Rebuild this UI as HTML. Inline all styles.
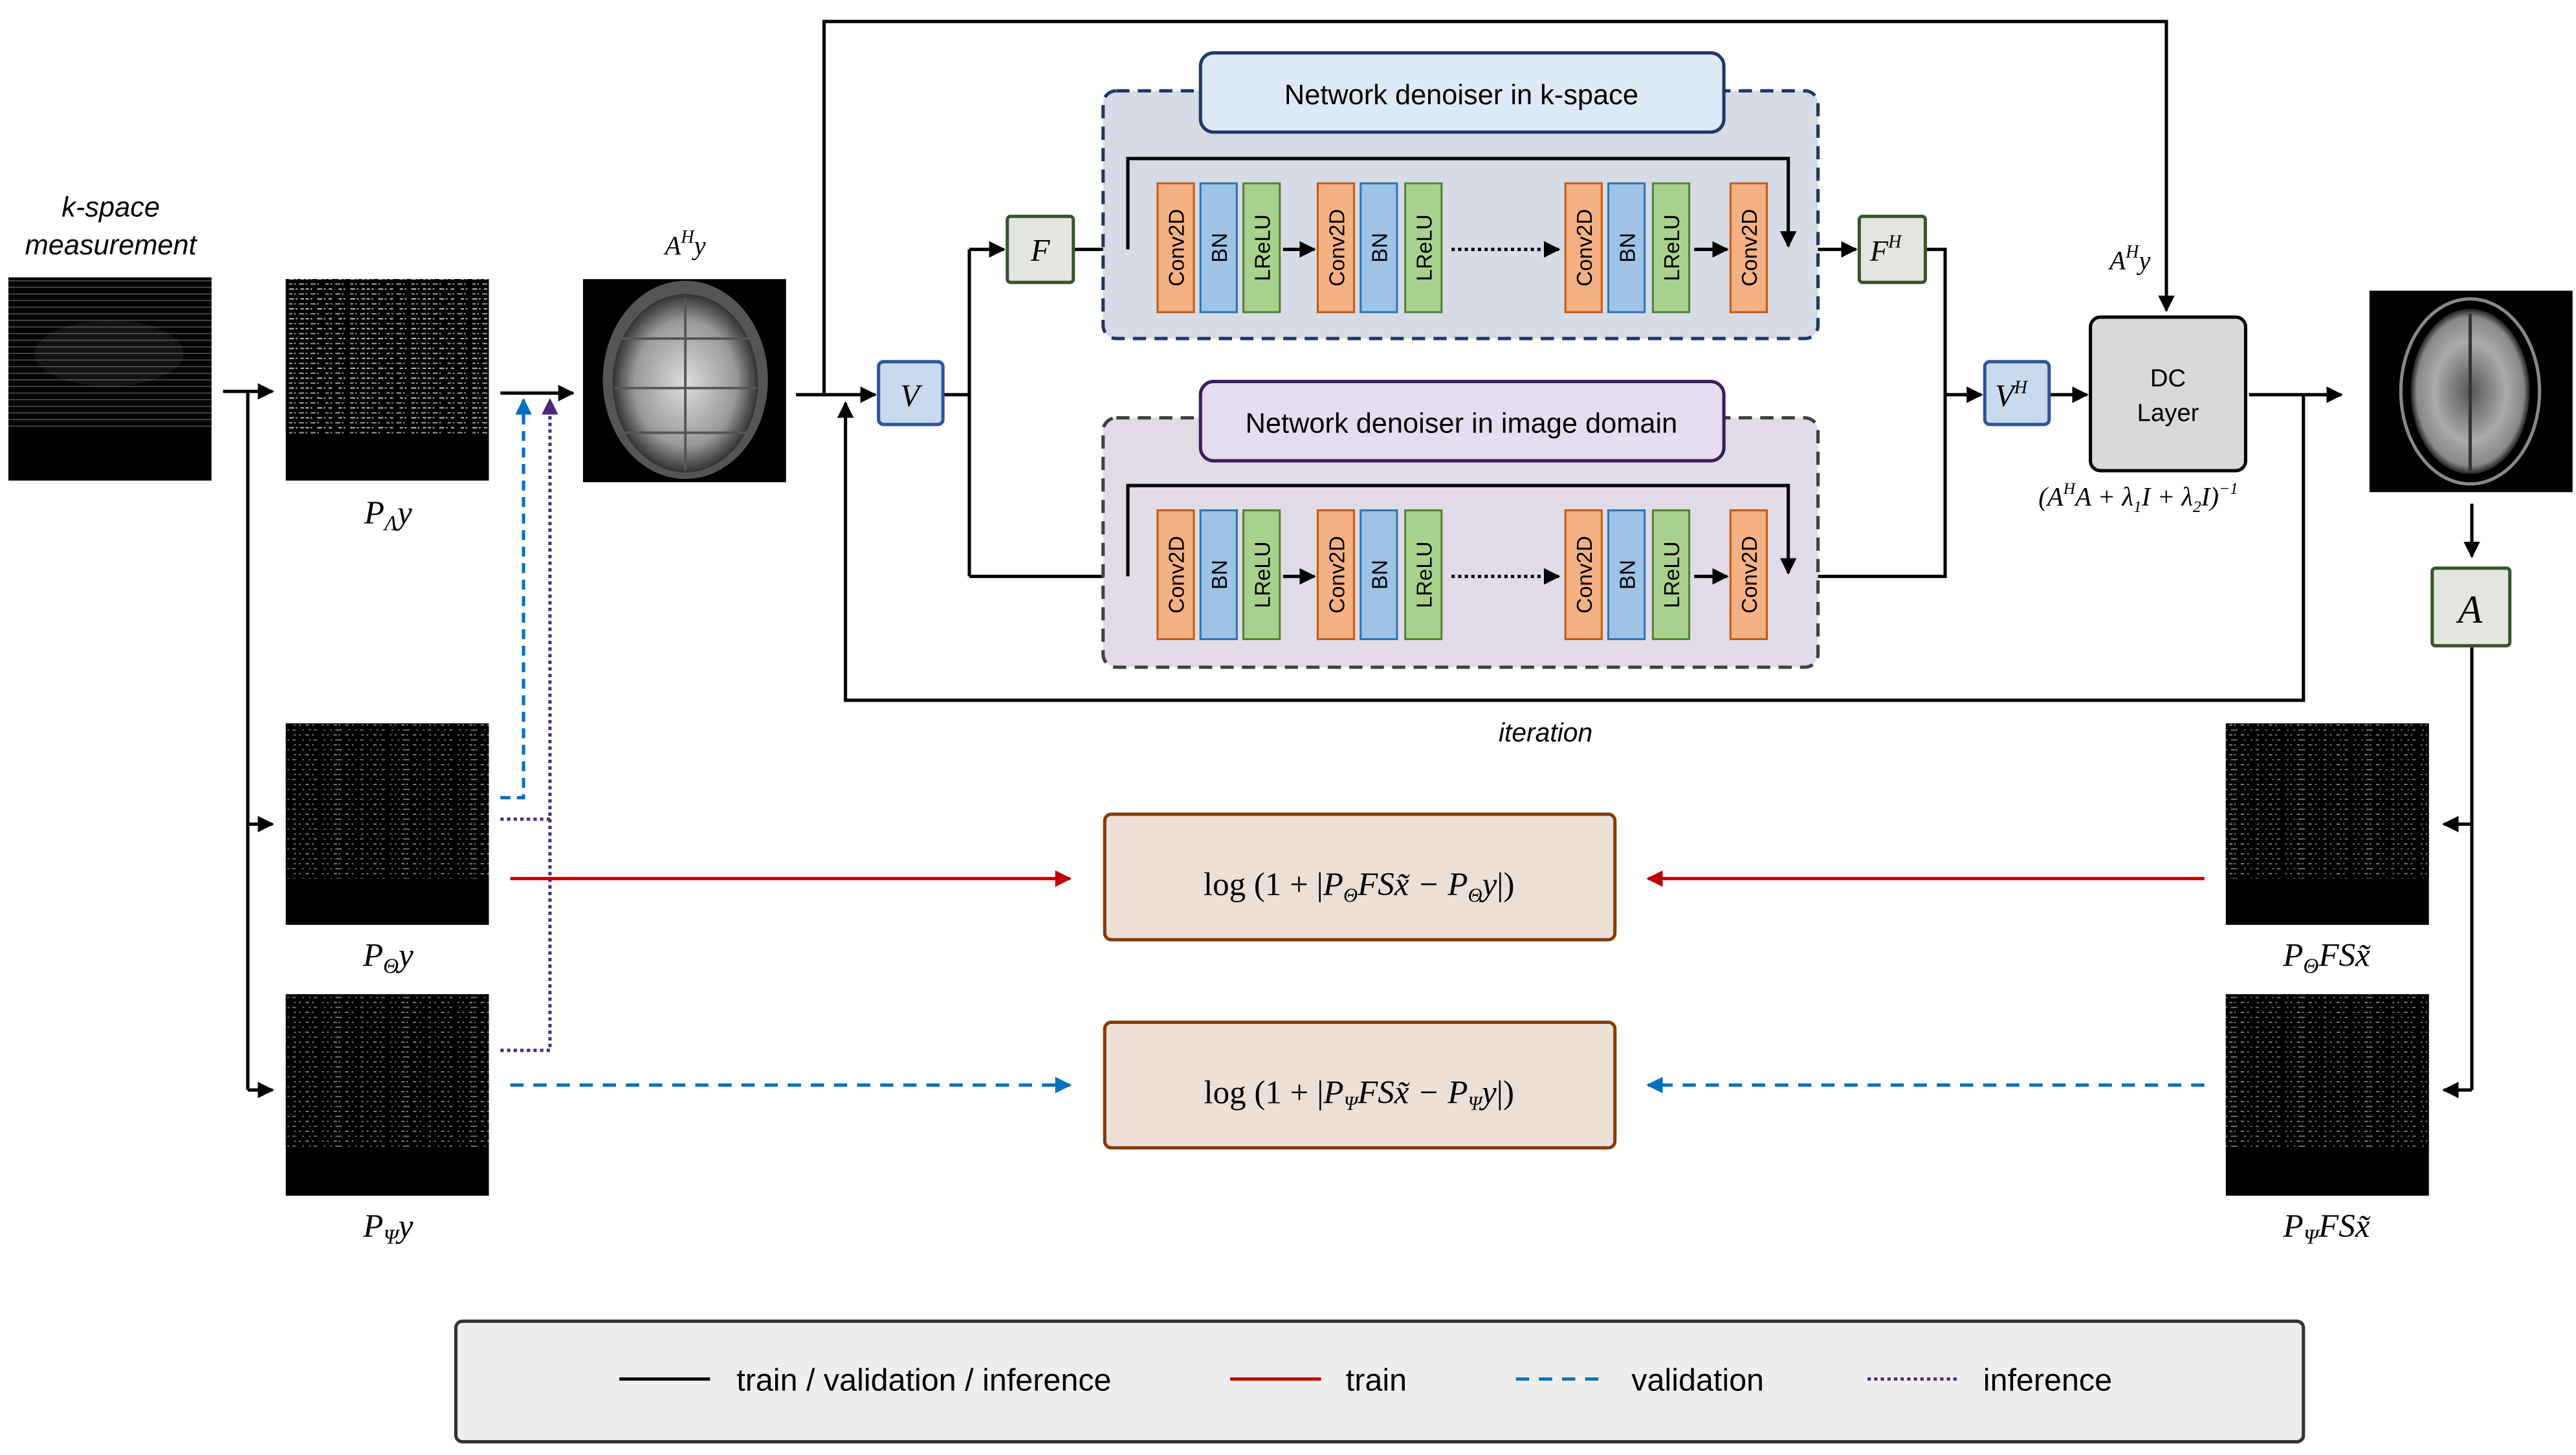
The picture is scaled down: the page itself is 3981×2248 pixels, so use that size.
<!DOCTYPE html>
<html><head><meta charset="utf-8"><style>
html,body{margin:0;padding:0;background:#fff}
svg{display:block}
.t{font-family:"Liberation Sans",sans-serif}
.m{font-family:"Liberation Serif",serif;font-style:italic}
</style></head><body>
<svg width="3981" height="2248" viewBox="0 0 1560 881" xmlns="http://www.w3.org/2000/svg">
<defs>
<marker id="ab" markerWidth="10" markerHeight="10" refX="9" refY="5" orient="auto" markerUnits="userSpaceOnUse"><path d="M0,0 L10,5 L0,10 z" fill="#000"/></marker>
<marker id="ar" markerWidth="10" markerHeight="10" refX="9" refY="5" orient="auto" markerUnits="userSpaceOnUse"><path d="M0,0 L10,5 L0,10 z" fill="#c00000"/></marker>
<marker id="au" markerWidth="10" markerHeight="10" refX="9" refY="5" orient="auto" markerUnits="userSpaceOnUse"><path d="M0,0 L10,5 L0,10 z" fill="#0070c0"/></marker>
<marker id="ap" markerWidth="10" markerHeight="10" refX="9" refY="5" orient="auto" markerUnits="userSpaceOnUse"><path d="M0,0 L10,5 L0,10 z" fill="#4b2a7a"/></marker>
<pattern id="noise" width="37" height="6" patternUnits="userSpaceOnUse">
<rect width="37" height="6" fill="#000"/>
<path d="M0,1 h37" stroke="#bbb" stroke-width="0.8" stroke-dasharray="2 1 1 3 3 1 1 2 2 4"/>
<path d="M0,4 h37" stroke="#999" stroke-width="0.8" stroke-dasharray="1 2 3 1 1 4 2 1"/>
</pattern>
<pattern id="noise2" width="41" height="6" patternUnits="userSpaceOnUse">
<rect width="41" height="6" fill="#000"/>
<path d="M0,1 h41" stroke="#888" stroke-width="0.7" stroke-dasharray="1 3 2 2 1 5 1 2"/>
<path d="M0,4 h41" stroke="#777" stroke-width="0.7" stroke-dasharray="2 4 1 3 1 2"/>
</pattern>
<pattern id="kl" width="123" height="4" patternUnits="userSpaceOnUse">
<rect width="123" height="4" fill="#050505"/>
<path d="M0,2 h123" stroke="#555" stroke-width="0.6"/>
</pattern>
<radialGradient id="brain1" cx="50%" cy="50%" r="50%"><stop offset="0" stop-color="#ddd"/><stop offset="0.7" stop-color="#999"/><stop offset="1" stop-color="#333"/></radialGradient>
<radialGradient id="brain2" cx="50%" cy="50%" r="50%"><stop offset="0" stop-color="#555"/><stop offset="0.6" stop-color="#aaa"/><stop offset="0.9" stop-color="#888"/><stop offset="1" stop-color="#222"/></radialGradient>
</defs>

<!-- k-space -->
<text class="t" x="67" y="131" font-size="17" font-style="italic" text-anchor="middle">k-space</text>
<text class="t" x="67" y="154" font-size="17" font-style="italic" text-anchor="middle">measurement</text>
<rect x="5" y="168" width="123" height="123" fill="#000"/>
<rect x="5" y="168" width="123" height="92" fill="url(#kl)"/>
<ellipse cx="66" cy="214" rx="45" ry="20" fill="#fff" opacity="0.06"/>

<!-- undersampled images -->
<rect x="173" y="169" width="123" height="122" fill="#000"/>
<rect x="173" y="169" width="123" height="94" fill="url(#noise)"/>
<text class="m" x="235" y="317" font-size="20" text-anchor="middle">P<tspan font-size="13" dy="4">Λ</tspan><tspan dy="-4">y</tspan></text>

<rect x="173" y="438" width="123" height="122" fill="#000"/>
<rect x="173" y="438" width="123" height="94" fill="url(#noise2)"/>
<text class="m" x="235" y="585" font-size="20" text-anchor="middle">P<tspan font-size="13" dy="4">Θ</tspan><tspan dy="-4">y</tspan></text>

<rect x="173" y="602" width="123" height="122" fill="#000"/>
<rect x="173" y="602" width="123" height="94" fill="url(#noise2)"/>
<text class="m" x="235" y="749" font-size="20" text-anchor="middle">P<tspan font-size="13" dy="4">Ψ</tspan><tspan dy="-4">y</tspan></text>

<rect x="1348" y="438" width="123" height="122" fill="#000"/>
<rect x="1348" y="438" width="123" height="94" fill="url(#noise2)"/>
<text class="m" x="1409" y="585" font-size="20" text-anchor="middle">P<tspan font-size="13" dy="4">Θ</tspan><tspan dy="-4">FSx̃</tspan></text>
<rect x="1348" y="602" width="123" height="122" fill="#000"/>
<rect x="1348" y="602" width="123" height="94" fill="url(#noise2)"/>
<text class="m" x="1409" y="749" font-size="20" text-anchor="middle">P<tspan font-size="13" dy="4">Ψ</tspan><tspan dy="-4">FSx̃</tspan></text>

<!-- A^H y image -->
<text class="m" x="415" y="154" font-size="16" text-anchor="middle">A<tspan font-size="11" dy="-7">H</tspan><tspan dy="7">y</tspan></text>
<rect x="353" y="169" width="123" height="123" fill="#000"/>
<ellipse cx="415" cy="230" rx="50" ry="60" fill="#555"/>
<ellipse cx="415" cy="232" rx="44" ry="54" fill="url(#brain1)"/>
<path d="M415,180 V285 M374,205 H456 M372,235 H458 M378,262 H452" stroke="#555" stroke-width="1.5"/>

<!-- output image -->
<rect x="1435" y="176" width="123" height="122" fill="#000"/>
<ellipse cx="1496" cy="237" rx="42" ry="56" fill="none" stroke="#888" stroke-width="2"/>
<ellipse cx="1496" cy="237" rx="36" ry="50" fill="url(#brain2)"/>
<path d="M1496,190 V285" stroke="#333" stroke-width="2"/>

<!-- connectors -->
<g stroke="#000" stroke-width="2" fill="none">
<path d="M135,237 H165" marker-end="url(#ab)"/>
<path d="M150,237 V660"/>
<path d="M150,499 H165" marker-end="url(#ab)"/>
<path d="M150,660 H165" marker-end="url(#ab)"/>
<path d="M303,238 H347" marker-end="url(#ab)"/>
<path d="M482,239 H530" marker-end="url(#ab)"/>
<path d="M499,239 V13 H1312 V188" marker-end="url(#ab)"/>
<path d="M1362,239 H1418" marker-end="url(#ab)"/>
<path d="M1395,239 V424 H512 V244" marker-end="url(#ab)"/>
<path d="M571,239 H587 M587,151 V349"/>
<path d="M587,151 H608" marker-end="url(#ab)"/>
<path d="M587,349 H698" marker-end="url(#ab)"/>
<path d="M650,151 H698" marker-end="url(#ab)"/>
<path d="M1072,151 H1124" marker-end="url(#ab)"/>
<path d="M1166,151 H1178 V349 H1072 M1178,239 H1200" marker-end="url(#ab)"/>
<path d="M1241,239 H1264" marker-end="url(#ab)"/>
<path d="M1497,305 V337" marker-end="url(#ab)"/>
<path d="M1497,392 V660"/>
<path d="M1497,499 H1480" marker-end="url(#ab)"/>
<path d="M1497,660 H1480" marker-end="url(#ab)"/>
</g>
<path d="M303,483 H317 V242" stroke="#0070c0" stroke-width="2" fill="none" stroke-dasharray="6 4" marker-end="url(#au)"/>
<path d="M303,496 H333 M303,636 H333 V242" stroke="#4b2a7a" stroke-width="2" fill="none" stroke-dasharray="2 2" marker-end="url(#ap)"/>

<!-- V boxes -->
<rect x="532" y="219" width="39" height="38" rx="3" fill="#c9d9ee" stroke="#2f5597" stroke-width="2"/>
<text class="m" x="551" y="246" font-size="19" text-anchor="middle">V</text>
<rect x="1202" y="219" width="39" height="38" rx="3" fill="#c9d9ee" stroke="#2f5597" stroke-width="2"/>
<text class="m" x="1218" y="246" font-size="19" text-anchor="middle">V<tspan font-size="11" dy="-8">H</tspan></text>
<rect x="610" y="131" width="40" height="40" rx="2" fill="#e2e6df" stroke="#38562a" stroke-width="2"/>
<text class="m" x="630" y="158" font-size="19" text-anchor="middle">F</text>
<rect x="1126" y="131" width="40" height="40" rx="2" fill="#e2e6df" stroke="#38562a" stroke-width="2"/>
<text class="m" x="1142" y="158" font-size="18" text-anchor="middle">F<tspan font-size="11" dy="-8">H</tspan></text>

<!-- containers -->
<rect x="668" y="55" width="433" height="150" rx="8" fill="#d6dbe5" stroke="#1f3864" stroke-width="2" stroke-dasharray="8 5"/>
<rect x="727" y="32" width="317" height="48" rx="8" fill="#dde9f6" stroke="#1f3864" stroke-width="2"/>
<text class="t" x="885" y="63" font-size="17" text-anchor="middle">Network denoiser in k-space</text>
<rect x="668" y="253" width="433" height="151" rx="8" fill="#e0dbe6" stroke="#404040" stroke-width="2" stroke-dasharray="8 5"/>
<rect x="727" y="231" width="317" height="48" rx="8" fill="#e6dcef" stroke="#3c1e5a" stroke-width="2"/>
<text class="t" x="885" y="262" font-size="17" text-anchor="middle">Network denoiser in image domain</text>

<g id="blocks">
<g stroke-width="1.2">
<rect x="701" y="111" width="22" height="78" fill="#f4b183" stroke="#c55a11"/>
<rect x="727" y="111" width="22" height="78" fill="#9dc3e6" stroke="#2e75b6"/>
<rect x="753" y="111" width="22" height="78" fill="#a9d18e" stroke="#538135"/>
<rect x="798" y="111" width="22" height="78" fill="#f4b183" stroke="#c55a11"/>
<rect x="824" y="111" width="22" height="78" fill="#9dc3e6" stroke="#2e75b6"/>
<rect x="851" y="111" width="22" height="78" fill="#a9d18e" stroke="#538135"/>
<rect x="948" y="111" width="22" height="78" fill="#f4b183" stroke="#c55a11"/>
<rect x="974" y="111" width="22" height="78" fill="#9dc3e6" stroke="#2e75b6"/>
<rect x="1001" y="111" width="22" height="78" fill="#a9d18e" stroke="#538135"/>
<rect x="1048" y="111" width="22" height="78" fill="#f4b183" stroke="#c55a11"/>
</g>
<g class="t" font-size="13" text-anchor="middle">
<text transform="translate(717,150) rotate(-90)">Conv2D</text>
<text transform="translate(743,150) rotate(-90)">BN</text>
<text transform="translate(769,150) rotate(-90)">LReLU</text>
<text transform="translate(814,150) rotate(-90)">Conv2D</text>
<text transform="translate(840,150) rotate(-90)">BN</text>
<text transform="translate(867,150) rotate(-90)">LReLU</text>
<text transform="translate(964,150) rotate(-90)">Conv2D</text>
<text transform="translate(990,150) rotate(-90)">BN</text>
<text transform="translate(1017,150) rotate(-90)">LReLU</text>
<text transform="translate(1064,150) rotate(-90)">Conv2D</text>
</g>
<g stroke="#000" stroke-width="2" fill="none">
<path d="M777,151 H796" marker-end="url(#ab)"/>
<path d="M879,151 H944" stroke-dasharray="2 2" marker-end="url(#ab)"/>
<path d="M1026,151 H1046" marker-end="url(#ab)"/>
<path d="M683,151 V96 H1083 V149" marker-end="url(#ab)"/>
</g>
</g>
<use href="#blocks" transform="translate(0,198)"/>

<!-- DC layer -->
<rect x="1266" y="192" width="94" height="93" rx="6" fill="#d9d9d9" stroke="#000" stroke-width="2"/>
<text class="t" x="1313" y="234" font-size="15" text-anchor="middle">DC</text>
<text class="t" x="1313" y="255" font-size="15" text-anchor="middle">Layer</text>
<text class="m" x="1290" y="163" font-size="16" text-anchor="middle">A<tspan font-size="11" dy="-7">H</tspan><tspan dy="7">y</tspan></text>
<text class="m" x="1295" y="306" font-size="16" text-anchor="middle">(A<tspan font-size="10" dy="-7">H</tspan><tspan dy="7">A + λ</tspan><tspan font-size="10" dy="4">1</tspan><tspan dy="-4">I + λ</tspan><tspan font-size="10" dy="4">2</tspan><tspan dy="-4">I)</tspan><tspan font-size="10" dy="-7">−1</tspan></text>

<!-- A box -->
<rect x="1473" y="344" width="47" height="47" rx="2" fill="#e2e6df" stroke="#38562a" stroke-width="2"/>
<text class="m" x="1496" y="377" font-size="24" text-anchor="middle">A</text>

<text class="t" x="936" y="449" font-size="16" font-style="italic" text-anchor="middle">iteration</text>

<!-- losses -->
<rect x="669" y="493" width="309" height="76" rx="4" fill="#ebdfd6" stroke="#843c0c" stroke-width="2"/>
<text class="m" x="823" y="542" font-size="20" text-anchor="middle"><tspan font-style="normal">log (1 + |</tspan>P<tspan font-size="12" dy="4">Θ</tspan><tspan dy="-4">FSx̃ − P</tspan><tspan font-size="12" dy="4">Θ</tspan><tspan dy="-4">y</tspan><tspan font-style="normal">|)</tspan></text>
<rect x="669" y="619" width="309" height="76" rx="4" fill="#ebdfd6" stroke="#843c0c" stroke-width="2"/>
<text class="m" x="823" y="668" font-size="20" text-anchor="middle"><tspan font-style="normal">log (1 + |</tspan>P<tspan font-size="12" dy="4">Ψ</tspan><tspan dy="-4">FSx̃ − P</tspan><tspan font-size="12" dy="4">Ψ</tspan><tspan dy="-4">y</tspan><tspan font-style="normal">|)</tspan></text>

<path d="M309,532 H648" stroke="#c00000" stroke-width="2" marker-end="url(#ar)"/>
<path d="M1335,532 H998" stroke="#c00000" stroke-width="2" marker-end="url(#ar)"/>
<path d="M309,657 H648" stroke="#0070c0" stroke-width="2" stroke-dasharray="8 6" marker-end="url(#au)"/>
<path d="M1335,657 H998" stroke="#0070c0" stroke-width="2" stroke-dasharray="8 6" marker-end="url(#au)"/>

<!-- legend -->
<rect x="276" y="800" width="1119" height="73" rx="4" fill="#eeeeee" stroke="#333" stroke-width="2"/>
<path d="M375,835 H430" stroke="#000" stroke-width="2"/>
<text class="t" x="446" y="842" font-size="19">train / validation / inference</text>
<path d="M745,835 H800" stroke="#c00000" stroke-width="2"/>
<text class="t" x="815" y="842" font-size="19">train</text>
<path d="M918,835 H973" stroke="#0070c0" stroke-width="2" stroke-dasharray="8 6"/>
<text class="t" x="988" y="842" font-size="19">validation</text>
<path d="M1131,835 H1186" stroke="#4b2a7a" stroke-width="2" stroke-dasharray="2 2"/>
<text class="t" x="1201" y="842" font-size="19">inference</text>
</svg>
</body></html>
